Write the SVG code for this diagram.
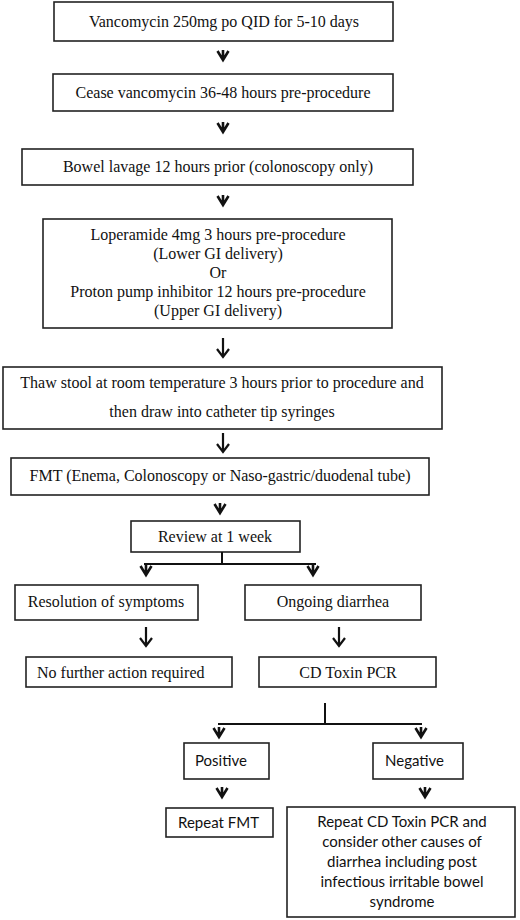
<svg xmlns="http://www.w3.org/2000/svg" xmlns:xlink="http://www.w3.org/1999/xlink" width="520" height="920" viewBox="0 0 520 920">
<style>
.box{fill:#fff;stroke:#222;stroke-width:1.6}
.t{font-family:"Liberation Serif","Times New Roman",serif;font-size:16px;fill:#111;text-anchor:middle}
.s{font-family:Lato,"Liberation Sans",sans-serif;font-size:15px;fill:#111}
.ln{fill:none;stroke:#111;stroke-width:2}
.ch{fill:none;stroke:#111;stroke-width:2.6;stroke-linejoin:miter}
.la{fill:none;stroke:#111;stroke-width:2.2}
</style>
<defs>
<path id="chev" class="ch" d="M-5.5,-9 L0,0 L5.5,-9 M0,-10 L0,0"/>
<path id="larr" class="la" d="M0,-19 L0,0 M-6,-8 L0,0 L6,-8"/>
</defs>
<rect width="520" height="920" fill="#fff"/>
<g id="n1"><rect class="box" x="54" y="2" width="339" height="39"/><text class="t" x="224" y="27">Vancomycin 250mg po QID for 5-10 days</text></g>
<g id="n2"><rect class="box" x="53" y="74" width="340" height="37"/><text class="t" x="223" y="98">Cease vancomycin 36-48 hours pre-procedure</text></g>
<g id="n3"><rect class="box" x="22" y="149" width="391" height="36"/><text class="t" x="218" y="172">Bowel lavage 12 hours prior (colonoscopy only)</text></g>
<g id="n4"><rect class="box" x="43" y="219" width="349" height="109"/>
<text class="t" x="218" y="240">Loperamide 4mg 3 hours pre-procedure</text>
<text class="t" x="218" y="259">(Lower GI delivery)</text>
<text class="t" x="218" y="278">Or</text>
<text class="t" x="218" y="297">Proton pump inhibitor 12 hours pre-procedure</text>
<text class="t" x="218" y="316">(Upper GI delivery)</text></g>
<g id="n5"><rect class="box" x="3" y="367" width="439" height="62"/>
<text class="t" x="222" y="388">Thaw stool at room temperature 3 hours prior to procedure and</text>
<text class="t" x="222" y="417">then draw into catheter tip syringes</text></g>
<g id="n6"><rect class="box" x="11" y="458" width="418" height="37"/><text class="t" x="220" y="481">FMT (Enema, Colonoscopy or Naso-gastric/duodenal tube)</text></g>
<g id="n7"><rect class="box" x="131" y="521" width="169" height="31"/><text class="t" x="215" y="542">Review at 1 week</text></g>
<g id="n8"><rect class="box" x="15" y="585" width="183" height="35"/><text class="t" x="106" y="607">Resolution of symptoms</text></g>
<g id="n9"><rect class="box" x="245" y="585" width="176" height="35"/><text class="t" x="333" y="607">Ongoing diarrhea</text></g>
<g id="n10"><rect class="box" x="26" y="657" width="206" height="30"/><text class="t" x="37" y="678" style="text-anchor:start">No further action required</text></g>
<g id="n11"><rect class="box" x="259" y="657" width="177" height="30"/><text class="t" x="348" y="678">CD Toxin PCR</text></g>
<g id="n12"><rect class="box" x="184" y="743" width="85" height="36"/><text class="s" x="195" y="766">Positive</text></g>
<g id="n13"><rect class="box" x="373" y="743" width="90" height="36"/><text class="s" x="385" y="766">Negative</text></g>
<g id="n14"><rect class="box" x="166" y="808" width="107" height="29"/><text class="s" x="178" y="828">Repeat FMT</text></g>
<g id="n15"><rect class="box" x="287" y="807" width="228" height="110"/>
<g class="s" style="text-anchor:middle">
<text x="402" y="827">Repeat CD Toxin PCR and</text>
<text x="402" y="847">consider other causes of</text>
<text x="402" y="867">diarrhea including post</text>
<text x="402" y="887">infectious irritable bowel</text>
<text x="402" y="907">syndrome</text></g></g>
<g id="connectors">
<use xlink:href="#chev" x="223" y="60"/>
<use xlink:href="#chev" x="223" y="132"/>
<use xlink:href="#chev" x="223" y="205"/>
<use xlink:href="#larr" x="223" y="357"/>
<use xlink:href="#larr" x="223" y="452"/>
<use xlink:href="#chev" x="220" y="513"/>
<path class="ln" d="M222,552 V564 M144,564 H316"/>
<use xlink:href="#chev" x="146" y="575"/>
<use xlink:href="#chev" x="313" y="575"/>
<use xlink:href="#larr" x="146" y="646"/>
<use xlink:href="#larr" x="339" y="646"/>
<path class="ln" d="M325,703 V724 M218,724 H422"/>
<use xlink:href="#chev" x="219" y="737"/>
<use xlink:href="#chev" x="421" y="737"/>
<use xlink:href="#chev" x="222" y="797"/>
<use xlink:href="#chev" x="425" y="797"/>
</g>
</svg>
